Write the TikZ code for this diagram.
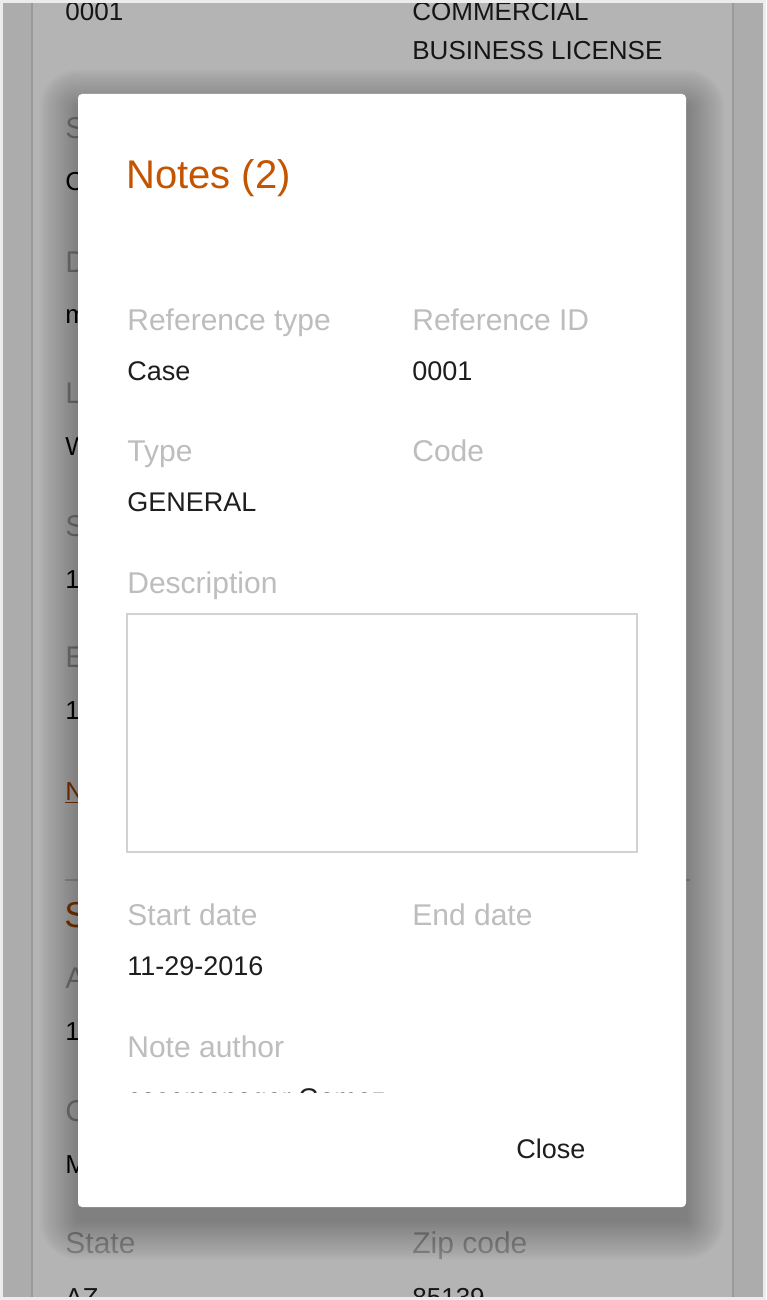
\documentclass[tikz,border=0pt]{standalone}
\usepackage{fontspec}
\setmainfont{Liberation Sans}

\definecolor{notesorange}{HTML}{C45500}
\definecolor{labelgray}{HTML}{BDBDBD}
\definecolor{valueblack}{HTML}{1E1E1E}
\definecolor{pagebg}{HTML}{F5F5F5}
\definecolor{boxline}{HTML}{D2D2D2}
\definecolor{framegray}{HTML}{ECECEC}

\tikzset{
  lbl/.style={anchor=base west, inner sep=0pt, text=labelgray, font=\fontsize{15}{18}\selectfont},
  val/.style={anchor=base west, inner sep=0pt, text=valueblack, font=\fontsize{13.5}{16}\selectfont},
  bglbl/.style={anchor=base west, inner sep=0pt, text=labelgray, font=\fontsize{15}{18}\selectfont},
  bgval/.style={anchor=base west, inner sep=0pt, text=valueblack, font=\fontsize{13}{16}\selectfont},
}

\begin{document}
\begin{tikzpicture}[x=0.5pt, y=-0.5pt]
    \useasboundingbox (0,0) rectangle (766,1300);

    % page behind the modal
    \fill [pagebg] (0,0) rectangle (766,1300);
    \fill [white, draw=black!14, line width=1pt] (32,-10) rectangle (733,1310);

    \node [bgval] (bgnum) at (65,21) {0001};
    \node [bgval] (bgname1) at (412,21) {COMMERCIAL};
    \node [bgval] (bgname2) at (412,60) {BUSINESS LICENSE};
    \node [bglbl] (bgl1) at (65,139) {S};
    \node [bgval] (bgv1) at (65,191) {C};
    \node [bglbl] (bgl2) at (65,272) {D};
    \node [bgval] (bgv2) at (65,323) {m};
    \node [bglbl] (bgl3) at (65,403) {L};
    \node [bgval] (bgv3) at (65,455) {W};
    \node [bglbl] (bgl4) at (65,536) {S};
    \node [bgval] (bgv4) at (65,588) {1};
    \node [bglbl] (bgl5) at (65,667) {E};
    \node [bgval] (bgv5) at (65,719) {1};
    \node [bgval, text=notesorange] (bglink) at (65,800) {\underline{N}};
    \draw [black!15, line width=1pt] (65,880) -- (690,880);
    \node [bgval, text=notesorange, font=\fontsize{18}{21}\selectfont] (bgsec) at (64,927) {S};
    \node [bglbl] (bgl6) at (65,988) {A};
    \node [bgval] (bgv6) at (65,1040) {1};
    \node [bglbl] (bgl7) at (65,1121) {C};
    \node [bgval] (bgv7) at (65,1173) {M};
    \node [bglbl] (bgstate) at (65,1253) {State};
    \node [bglbl] (bgzip) at (412,1253) {Zip code};
    \node [bgval] (bgaz) at (65,1306) {AZ};
    \node [bgval] (bgzipv) at (412,1306) {85139};

    % dim overlay
    \fill [black, opacity=0.294] (0,0) rectangle (766,1300);
    \draw [framegray, line width=1.5pt] (1.5,1.5) rectangle (764.5,1298.5);

    % soft shadow of the modal
    \foreach \s in {1,...,24}
        \fill [black, opacity=0.011, rounded corners=\s*0.8pt] ({78-1.6*\s},{108-1.6*\s}) rectangle ({686+1.6*\s},{1221+1.6*\s});

    % modal
    \fill [white, rounded corners=2pt] (78,94) rectangle (686,1207);

    \node [anchor=base west, inner sep=0pt, text=notesorange, font=\fontsize{20}{24}\selectfont] (title) at (126,189) {Notes (2)};

    \node [lbl] (reftype) at (127,330) {Reference type};
    \node [val] (reftypev) at (127,380) {Case};
    \node [lbl] (refid) at (412,330) {Reference ID};
    \node [val] (refidv) at (412,380) {0001};

    \node [lbl] (type) at (127,461) {Type};
    \node [val] (typev) at (127,511) {GENERAL};
    \node [lbl] (code) at (412,461) {Code};

    \node [lbl] (descr) at (127,593) {Description};
    \draw [boxline, line width=1pt] (127,614) rectangle (637,852);

    \node [lbl] (start) at (127,925) {Start date};
    \node [val] (startv) at (127,975) {11-29-2016};
    \node [lbl] (end) at (412,925) {End date};

    \node [lbl] (author) at (127,1057) {Note author};
    \begin{scope}
        \clip (100,1000) rectangle (660,1092);
        \node [val] (authorv) at (127,1107.5) {casemanager Gomez};
    \end{scope}

    \node [val] (close) at (516,1158) {Close};
\end{tikzpicture}
\end{document}
